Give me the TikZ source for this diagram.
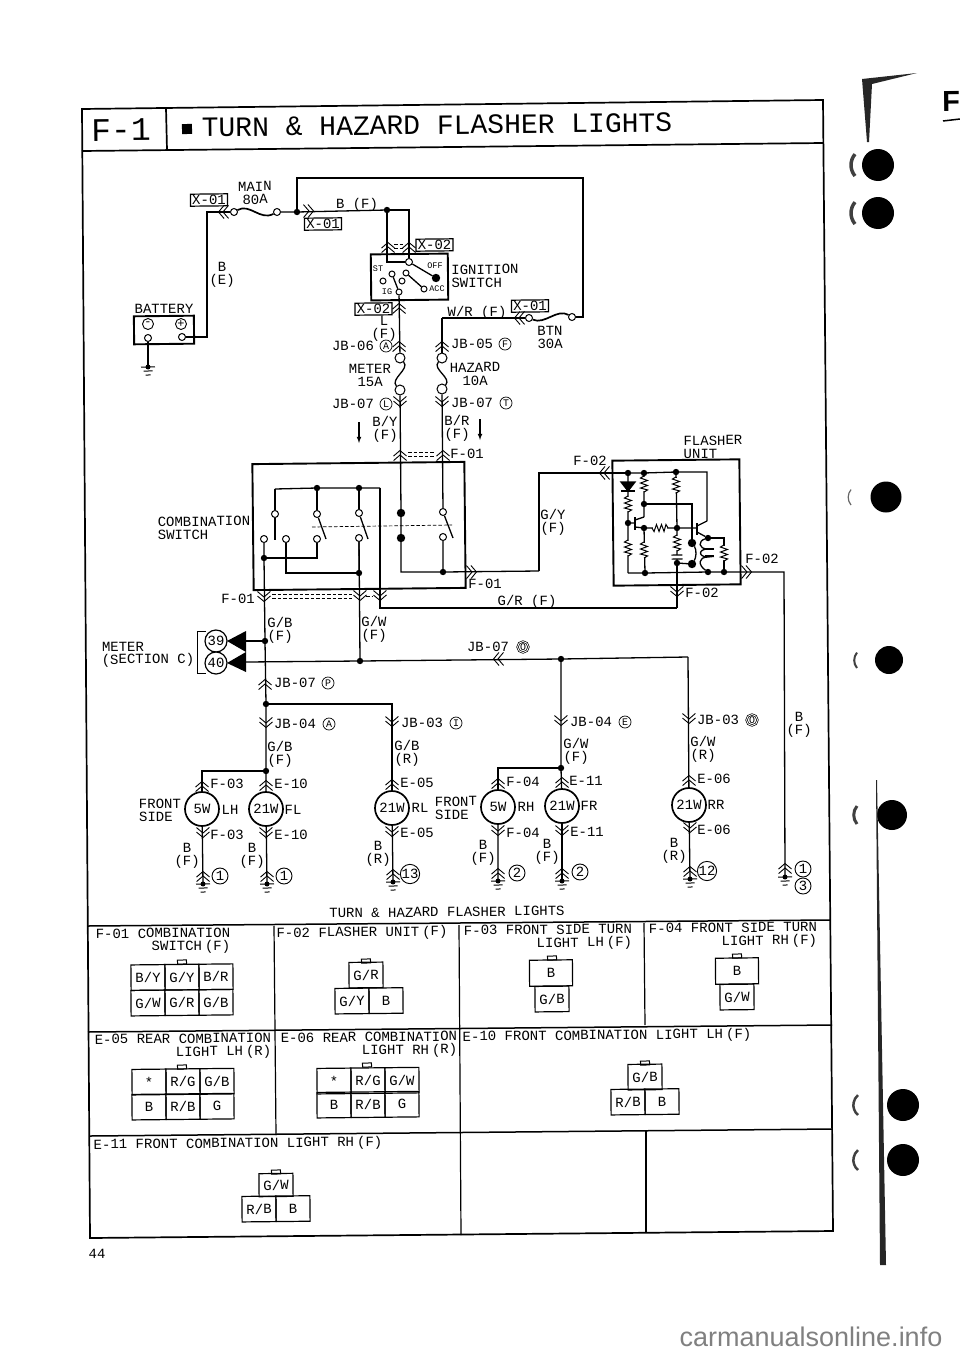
\documentclass[tikz,border=0pt]{standalone}
\usepackage{fontspec}
\setmainfont{Liberation Mono}
\newfontfamily\wmfont{Liberation Sans}
\usetikzlibrary{positioning,shapes}
\tikzstyle{term}=[draw, circle, fill=white, minimum size=7pt, inner sep=0pt, line width=1pt]
\tikzstyle{junc}=[draw, circle, fill=black, minimum size=5pt, inner sep=0pt]
\tikzstyle{bigjunc}=[draw, circle, fill=black, minimum size=7pt, inner sep=0pt]
\tikzstyle{hbox}=[draw, line width=1.9pt, inner sep=0pt]
\tikzstyle{lamp}=[draw, circle, fill=white, minimum size=34pt, inner sep=0pt, line width=1.7pt]
\tikzstyle{tagbox}=[draw, line width=1.2pt, inner sep=0pt, minimum height=12pt, minimum width=37pt]
\tikzstyle{numc}=[draw, circle, fill=white, minimum size=16pt, inner sep=0pt, line width=0.9pt]
\tikzstyle{meterc}=[draw, circle, fill=white, minimum size=22pt, inner sep=0pt, line width=1.2pt]
\tikzstyle{letc}=[draw, circle, minimum size=12pt, inner sep=0pt, line width=0.7pt, font=\fontsize{10}{10}\selectfont]
\tikzstyle{batc}=[draw, circle, minimum size=11pt, inner sep=0pt, line width=0.9pt, font=\fontsize{12}{12}\selectfont]
\tikzstyle{cell}=[draw, minimum width=34pt, minimum height=25.5pt, inner sep=0pt, line width=1.2pt]
\tikzstyle{wcell}=[draw, minimum width=43pt, minimum height=26pt, inner sep=0pt, line width=1.2pt]
\tikzstyle{ctab}=[draw, minimum width=9pt, minimum height=4pt, inner sep=0pt, line width=1pt]
\tikzstyle{small}=[font=\fontsize{8.5}{8.5}\selectfont]
\tikzstyle{dashw}=[line width=0.7pt, dash pattern=on 3.5pt off 2pt]
\newcommand{\nsp}{\kern3pt}
\tikzset{
  chev/.pic={
    \draw[line width=0.9pt] (-6.5,2) -- (0,-3.5) -- (6.5,2);
    \draw[line width=0.9pt] (-6.5,6.5) -- (0,1) -- (6.5,6.5);
  },
  gnd/.pic={
    \fill (0,0) circle (2.5);
    \draw[line width=1pt] (-7,0) -- (7,0);
    \draw[line width=1pt] (-4.5,4) -- (4.5,4);
    \draw[line width=1pt] (-2.5,8) -- (2.5,8);
  },
  rest/.pic={
    \fill[white] (-1.5,-7) rectangle (1.5,7);
    \draw[line width=1pt] (0,-8) -- (-3.5,-6) -- (3.5,-3.5) -- (-3.5,-1) -- (3.5,1.5) -- (-3.5,4) -- (3.5,6) -- (0,8);
  },
  capa/.pic={
    \fill[white] (-2,-2) rectangle (2,2);
    \draw[line width=1.1pt] (-5.5,-2) -- (5.5,-2);
    \draw[line width=1.1pt] (-5.5,2) -- (5.5,2);
  }
}

\begin{document}
\begin{tikzpicture}[x=1pt,y=-1pt,line width=1.3pt,font=\fontsize{14}{13}\selectfont,every node/.style={rotate=0.6}]
\useasboundingbox (0,0) rectangle (960,1354);

% outer frame and table
\draw[line width=1.7pt] (82,109) -- (823,100) -- (833,1231) -- (90,1238) -- cycle;
\draw[line width=1.7pt] (82,151) -- (823,143);
\draw[line width=1.7pt] (166,108) -- (167,150);
\draw[line width=1.5pt] (88,926) -- (830,920);
\draw[line width=1.5pt] (88,1032) -- (832,1025);
\draw[line width=1.5pt] (90,1136) -- (832,1129);
\draw[line width=1.2pt] (274,926) -- (276,1135);
\draw[line width=1.2pt] (459,925) -- (461,1235);
\draw[line width=1.2pt] (644,923) -- (645,1025);
\draw[line width=1.2pt] (646,1130) -- (646,1233);

\node[font=\fontsize{33}{33}\selectfont] at (121,130) (pagenum) {F-1};
\node[fill=black, minimum size=10pt, inner sep=0pt] at (187,129) (bullet) {};
\node[font=\fontsize{28}{28}\selectfont] at (437,125) (title) {TURN \& HAZARD FLASHER LIGHTS};

% battery and main fuse
\node[hbox, minimum width=60pt, minimum height=28pt] at (164,330) (battery) {};
\node at (164,309) (batlbl) {BATTERY};
\node[batc] at (148,324) (batm) {-};
\node[batc] at (181,324) (batpp) {+};
\node[term] at (148,338) (batg) {};
\node[term] at (182,337) (batp) {};
\coordinate (gndbat) at (148,367);
\coordinate (corna) at (207,212);
\node[term] at (234,212) (fmaina) {};
\node[term] at (277,212) (fmainb) {};
\node[junc] at (297,212) (jmain) {};
\node[junc] at (387,210) (jign) {};
\coordinate (topr) at (583,178);
\node[term] at (572,317) (fbtnb) {};
\node[term] at (529,318) (fbtna) {};
\coordinate (cornb) at (442,318);

\draw (batg) -- (gndbat);
\pic at (gndbat) {gnd};
\draw (batp) -| (corna) -- (fmaina);
\draw[line width=1.7pt] (fmaina) .. controls (250,203) and (260,221) .. (fmainb);
\draw (fmainb) -- (jmain) -- (jign);
\draw (jmain) |- (topr) |- (fbtnb);
\draw[line width=1.7pt] (fbtnb) .. controls (557,308) and (545,325) .. (fbtna);
\draw (fbtna) -- (cornb);
\pic[rotate=90] at (222,212) {chev};
\pic[rotate=-90] at (310,211) {chev};
\pic[rotate=90] at (518,318) {chev};

\node[align=center] at (255,193) (mainlbl) {MAIN\\80A};
\node[tagbox] at (209,200) (xa) {X-01};
\node[tagbox] at (323,224) (xb) {X-01};
\node at (357,205) (bflbl) {B (F)};
\node[align=center] at (222,275) (belbl) {B\\(E)};
\node[align=center] at (550,337) (btnlbl) {BTN\\30A};
\node at (477,313) (wrlbl) {W/R (F)};
\node[tagbox] at (530,306) (xc) {X-01};

% ignition switch
\node[hbox, fill=white, minimum width=77pt, minimum height=46pt] at (409.5,277) (ignbox) {};
\node[term] at (409,262) (igtop) {};
\node[bigjunc] at (436,278) (igoff) {};
\node[term, minimum size=6pt] at (392,274) (igst) {};
\node[term, minimum size=6pt] at (406,273) (igac) {};
\node[term, minimum size=6pt] at (383,281) (igx) {};
\node[term, minimum size=6pt] at (402,281) (igy) {};
\node[term, minimum size=6pt] at (399,292) (igb) {};
\node[term, minimum size=6pt] at (424,289) (igc) {};
\draw (igtop) -- (igoff);
\draw (igst) -- (igb);
\draw (igac) -- (igc);
\draw (jign) |- (igtop);
\draw (jign) -| (igtop);
\pic at (388,246) {chev};
\pic at (409,246) {chev};
\draw[dashw] (394,244) -- (403,244);
\draw[dashw] (394,248) -- (403,248);
\node[tagbox] at (434.5,245) (xd) {X-02};
\node[small] at (378,269) (iglst) {ST};
\node[small] at (435,266) (igloff) {OFF};
\node[small] at (387,292) (iglig) {IG};
\node[small] at (437,289) (iglacc) {ACC};
\node[align=left] at (485,276) (ignlbl) {IGNITION\\SWITCH};
\node[tagbox] at (373.5,309) (xe) {X-02};

% fuses below the switch
\node[term, minimum size=10pt] at (400,358) (fmetera) {};
\node[term, minimum size=10pt] at (400,390) (fmeterb) {};
\node[term, minimum size=10pt] at (442,358) (fhaza) {};
\node[term, minimum size=10pt] at (442,389) (fhazb) {};
\draw (igb) -- (fmetera);
\draw (fmetera) .. controls (410,369) and (390,379) .. (fmeterb);
\draw (cornb) -- (fhaza);
\draw (fhaza) .. controls (432,369) and (452,378) .. (fhazb);
\pic at (399,307) {chev};
\pic at (399,345) {chev};
\pic at (442,345) {chev};
\pic[rotate=180] at (400,403) {chev};
\pic[rotate=180] at (442,403) {chev};
\pic at (400,454) {chev};
\pic at (443,454) {chev};
\draw[dashw] (408,452) -- (435,452);
\draw[dashw] (408,456) -- (435,456);

\node[align=center] at (384,329) (llbl) {L\\(F)};
\node at (353,346) (jbsix) {JB-06};
\node[letc] at (386,346) (cira) {A};
\node at (472,344) (jbfive) {JB-05};
\node[letc] at (505,344) (cirf) {F};
\node[align=center] at (370,375.5) (meterlbl) {METER\\15A};
\node[align=center] at (475,374) (hazlbl) {HAZARD\\10A};
\node at (353,404) (jbsevl) {JB-07};
\node[letc] at (386,404) (cirl) {L};
\node at (472,403) (jbsevt) {JB-07};
\node[letc] at (506,403) (cirt) {T};
\node[align=center] at (385,429) (bylbl) {B/Y\\(F)};
\node[align=center] at (457,428) (brlbl) {B/R\\(F)};
\node at (467,454) (fonea) {F-01};
\coordinate (arra) at (359,422);
\coordinate (arrb) at (359,443);
\coordinate (arrc) at (480,419);
\coordinate (arrd) at (480,440);
\draw[-latex, line width=1.1pt] (arra) -- (arrb);
\draw[-latex, line width=1.1pt] (arrc) -- (arrd);

% combination switch
\node[hbox, minimum width=212pt, minimum height=126pt] at (359,526) (combo) {};
\node[align=left] at (204,528) (combolbl) {COMBINATION\\SWITCH};
\coordinate (cta) at (275,489);
\node[junc] at (317,488) (ctb) {};
\node[junc] at (359,488) (ctc) {};
\coordinate (ctd) at (380,488);
\node[term] at (275,514) (swa) {};
\node[term] at (317,514) (swb) {};
\node[term] at (359,513) (swc) {};
\node[bigjunc] at (401,513) (swd) {};
\node[term] at (443,512) (swe) {};
\node[term] at (264,539) (lowa) {};
\node[term] at (286,539) (lowb) {};
\node[term] at (317,539) (lowc) {};
\node[term] at (359,538) (lowd) {};
\node[bigjunc] at (401,538) (lowe) {};
\node[term] at (443,537) (lowf) {};
\node[junc] at (264,558) (jla) {};
\node[junc] at (359,573) (jlb) {};
\node[junc] at (443,572) (jlc) {};
\coordinate (jle) at (401,572);
\coordinate (bladea) at (275,540);
\coordinate (bladeb) at (326,539);
\coordinate (bladec) at (368,539);
\coordinate (blades) at (453,538);
\coordinate (gycorn) at (539,571);
\coordinate (grcorn) at (677,608);

\draw (cta) -- (ctb) -- (ctc) -- (ctd);
\draw (swa) -- (cta);
\draw (swb) -- (ctb);
\draw (swc) -- (ctc);
\draw (swa) -- (bladea);
\draw (swb) -- (bladeb);
\draw (swc) -- (bladec);
\draw (swd) -- (lowe);
\draw (swe) -- (blades);
\draw[dashw] (312,527) -- (452,525);
\draw (fmeterb) -- (swd);
\draw (fhazb) -- (swe);
\draw (lowa) -- (jla);
\draw (jla) -| (lowc);
\draw (lowb) |- (jlb);
\draw (lowd) -- (jlb);
\draw (lowe) -- (jle) -- (jlc) -- (gycorn);
\draw (lowf) -- (jlc);
\draw (ctd) |- (grcorn);
\pic[rotate=-90] at (473,572) {chev};
\pic[rotate=180] at (264,598) {chev};
\pic[rotate=180] at (360,597) {chev};
\pic[rotate=180] at (380,597) {chev};
\draw[dashw] (272,594) -- (352,594);
\draw[dashw] (272,598) -- (352,598);
\draw[dashw] (366,596) -- (373,596);
\node at (485,584) (fonec) {F-01};
\node at (238,599) (foneb) {F-01};
\node[align=center] at (553,522.5) (gylbl) {G/Y\\(F)};
\node at (527,602) (grlbl) {G/R (F)};
\node[align=center] at (280,630.5) (gblbl) {G/B\\(F)};
\node[align=center] at (374,629.5) (gwlbl) {G/W\\(F)};

% flasher unit
\node[hbox, minimum width=127pt, minimum height=125pt] at (676.5,522.5) (flasher) {};
\node[align=left] at (713,447) (flalbl) {FLASHER\\UNIT};
\node at (590,461) (ftwoa) {F-02};
\node at (762,559) (ftwob) {F-02};
\node at (702,593) (ftwoc) {F-02};
\node[junc] at (628,473) (fja) {};
\node[junc] at (644,473) (fjb) {};
\node[junc] at (676,472) (fjc) {};
\coordinate (fjd) at (707,472);
\coordinate (fje) at (707,521);
\node[junc] at (628,523) (base) {};
\node[junc] at (644,504) (jmid) {};
\node[junc] at (644,528) (jemi) {};
\node[junc] at (677,528) (jrel) {};
\node[junc] at (677,563) (jcap) {};
\node[junc] at (645,573) (jbotb) {};
\node[junc] at (708,572) (jbotc) {};
\node[junc] at (724,572) (jbotd) {};
\node[junc] at (708,538) (jcoil) {};
\node[bigjunc] at (692,543) (rlya) {};
\node[bigjunc] at (692,564) (rlyb) {};
\coordinate (jbota) at (628,573);
\coordinate (colb) at (644,517);
\coordinate (tbase) at (697,528);
\coordinate (bcorn) at (784,572);
\coordinate (gndg) at (785,877);

\draw (gycorn) |- (fja);
\draw (fja) -- (fjb) -- (fjc) -- (fjd) -- (fje);
\draw (fja) -- (base) -- (jbota);
\draw (fjb) -- (jmid) -- (colb);
\draw (fjc) -- (jrel) -- (jcap);
\draw (jemi) -- (jbotb);
\draw (jemi) -- (jrel) -- (tbase);
\draw (jmid) -| (rlya);
\draw (rlya) .. controls (697,550) and (696,558) .. (rlyb);
\draw (jcap) -- (rlyb);
\draw (jbota) -- (jbotb) -- (jbotc) -- (jbotd) -- (bcorn) -- (gndg);
\draw (jcoil) -| (jbotd);
\draw (jcoil) .. controls (698,541) and (698,549) .. (708,549) .. controls (698,549) and (698,557) .. (708,557) .. controls (698,557) and (698,565) .. (jbotc);
\draw (grcorn) -- (jcap);
% diode and transistors
\draw[fill=black] (621,482) -- (635,482) -- (628,491) -- cycle;
\draw (621,491) -- (635,491);
\draw (base) -- (635,523);
\draw[line width=1.6pt] (635,517) -- (635,530);
\draw (635,520) -- (colb);
\draw (635,527) -- (jemi);
\draw[line width=1.6pt] (697,523) -- (697,535);
\draw (697,526) -- (fje);
\draw (697,532) -- (jcoil);
\draw[line width=1.6pt] (705,549) -- (714,549);
\draw[line width=1.6pt] (705,556) -- (714,556);
\pic at (628,504) {rest};
\pic at (628,548) {rest};
\pic at (644,484) {rest};
\pic at (644,550) {rest};
\pic at (676,485) {rest};
\pic at (677,543) {rest};
\pic at (724,553) {rest};
\pic[rotate=90] at (660,528) {rest};
\pic at (677,557) {capa};
\pic[rotate=90] at (603,473) {chev};
\pic[rotate=-90] at (748,572) {chev};
\pic[rotate=180] at (677,593) {chev};

% meter
\node[meterc] at (216,641) (mthirty) {39};
\node[meterc] at (216,663) (mforty) {40};
\fill (227,641) -- (246,631) -- (246,652) -- cycle;
\fill (227,663) -- (246,652) -- (246,672) -- cycle;
\coordinate (tria) at (246,641);
\coordinate (trib) at (246,662);
\coordinate (braa) at (206,631);
\coordinate (brab) at (197,631);
\coordinate (brac) at (206,673);
\draw[line width=0.9pt] (braa) -- (brab) |- (brac);
\node at (123,647) (mlbl) {METER};
\node at (148,660) (mlbb) {(SECTION C)};
\node[junc] at (265,641) (jgb) {};
\node[junc] at (360,661) (jgw) {};
\node[junc] at (561,659) (jo) {};
\coordinate (corno) at (688,657);
\node[junc] at (266,704) (jp) {};
\node at (295,683) (jbp) {JB-07};
\node[letc] at (328,683) (cirp) {P};
\node at (488,647) (jbo) {JB-07};
\node[letc, double, double distance=0.8pt, minimum size=11pt] at (523,647) (ciro) {O};
\pic at (265,683) {chev};
\pic[rotate=90] at (497,659) {chev};
\draw (tria) -- (jgb);
\draw (trib) -- (jgw) -- (jo) -- (corno);
\draw (jla) -- (jgb) -- (jp);
\draw (lowd) -- (jgw);

% lamps
\node[lamp] at (202,809) (lamplh) {5W};
\node[lamp] at (266,809) (lampfl) {21W};
\node[lamp] at (392,808) (lamprl) {21W};
\node[lamp] at (498,807) (lamprh) {5W};
\node[lamp] at (562,806) (lampfr) {21W};
\node[lamp] at (689,805) (lamprr) {21W};
\node[junc] at (266,771) (jfl) {};
\node[junc] at (561,768) (jfr) {};
\coordinate (gnda) at (203,884);
\coordinate (gndb) at (267,884);
\coordinate (gndc) at (393,882);
\coordinate (gndd) at (498,881);
\coordinate (gnde) at (562,881);
\coordinate (gndf) at (690,879);
\draw (jp) -- (jfl) -- (lampfl);
\draw (jfl) -| (lamplh);
\draw (jp) -| (lamprl);
\draw (jo) -- (jfr) -- (lampfr);
\draw (jfr) -| (lamprh);
\draw (corno) -- (lamprr);
\draw (lamplh) -- (gnda);
\draw (lampfl) -- (gndb);
\draw (lamprl) -- (gndc);
\draw (lamprh) -- (gndd);
\draw (lampfr) -- (gnde);
\draw (lamprr) -- (gndf);
\pic[rotate=180] at (266,724) {chev};
\pic[rotate=180] at (392,723) {chev};
\pic[rotate=180] at (561,722) {chev};
\pic[rotate=180] at (689,720) {chev};
\pic at (202,785) {chev};
\pic at (266,784) {chev};
\pic at (392,783) {chev};
\pic at (498,782) {chev};
\pic at (562,781) {chev};
\pic at (689,779) {chev};
\pic[rotate=180] at (203,834) {chev};
\pic[rotate=180] at (266,834) {chev};
\pic[rotate=180] at (392,833) {chev};
\pic[rotate=180] at (498,832) {chev};
\pic[rotate=180] at (562,832) {chev};
\pic[rotate=180] at (690,829) {chev};
\pic at (203,875) {chev};
\pic at (267,875) {chev};
\pic at (393,873) {chev};
\pic at (498,872) {chev};
\pic at (562,872) {chev};
\pic at (690,870) {chev};
\pic at (785,867) {chev};
\pic at (gnda) {gnd};
\pic at (gndb) {gnd};
\pic at (gndc) {gnd};
\pic at (gndd) {gnd};
\pic at (gnde) {gnd};
\pic at (gndf) {gnd};
\pic at (gndg) {gnd};
\node[numc] at (220,876) (gna) {1};
\node[numc] at (284,876) (gnb) {1};
\node[numc] at (410,874) (gnc) {13};
\node[numc] at (517,873) (gnd1) {2};
\node[numc] at (580,872) (gne) {2};
\node[numc] at (707,871) (gnf) {12};
\node[numc] at (803,869) (gng) {1};
\node[numc] at (803,886) (gnh) {3};

\node at (295,724) (jbfoura) {JB-04};
\node[letc] at (329,724) (cirja) {A};
\node at (422,723) (jbthreei) {JB-03};
\node[letc] at (456,723) (cirji) {I};
\node at (591,722) (jbfoure) {JB-04};
\node[letc] at (625,722) (cirje) {E};
\node at (718,720) (jbthreeo) {JB-03};
\node[letc, double, double distance=0.8pt, minimum size=11pt] at (752,720) (cirjo) {O};
\node[align=center] at (799,724.5) (bright) {B\\(F)};
\node[align=center] at (280,754.5) (gbb) {G/B\\(F)};
\node[align=center] at (407,753) (gbr) {G/B\\(R)};
\node[align=center] at (576,751) (gwb) {G/W\\(F)};
\node[align=center] at (703,749.5) (gwr) {G/W\\(R)};
\node at (227,784) (fthreea) {F-03};
\node at (291,784) (etena) {E-10};
\node at (417,783) (efivea) {E-05};
\node at (523,782) (ffoura) {F-04};
\node at (586,781) (eelevena) {E-11};
\node at (714,779) (esixa) {E-06};
\node[align=left] at (160,810.5) (fronta) {FRONT\\SIDE};
\node[align=left] at (456,808) (frontb) {FRONT\\SIDE};
\node at (230,810) (lhlbl) {LH};
\node at (293,810) (fllbl) {FL};
\node at (420,808) (rllbl) {RL};
\node at (526,807) (rhlbl) {RH};
\node at (589,806) (frlbl) {FR};
\node at (716,805) (rrlbl) {RR};
\node at (227,835) (fthreeb) {F-03};
\node at (291,835) (etenb) {E-10};
\node at (417,833) (efiveb) {E-05};
\node at (523,833) (ffourb) {F-04};
\node at (587,832) (eelevenb) {E-11};
\node at (714,830) (esixb) {E-06};
\node[align=center] at (187,856) (bla) {B\\(F)};
\node[align=center] at (252,855.5) (blb) {B\\(F)};
\node[align=center] at (378,854) (blc) {B\\(R)};
\node[align=center] at (483,853) (bld) {B\\(F)};
\node[align=center] at (547,852) (ble) {B\\(F)};
\node[align=center] at (674,850.5) (blf) {B\\(R)};
\node at (447,912) (diagtitle) {TURN \& HAZARD FLASHER LIGHTS};

% connector table
\node[align=right] at (163,941) (capa) {F-01 COMBINATION\\SWITCH\nsp(F)};
\node at (362,933) (capc) {F-02 FLASHER UNIT\nsp(F)};
\node[align=right] at (548,937.5) (capd) {F-03 FRONT SIDE TURN\\LIGHT LH\nsp(F)};
\node[align=right] at (733,935.5) (capf) {F-04 FRONT SIDE TURN\\LIGHT RH\nsp(F)};
\node[align=right] at (183,1046.5) (caph) {E-05 REAR COMBINATION\\LIGHT LH\nsp(R)};
\node[align=right] at (369,1045) (capj) {E-06 REAR COMBINATION\\LIGHT RH\nsp(R)};
\node at (607,1036) (capl) {E-10 FRONT COMBINATION LIGHT LH\nsp(F)};
\node at (238,1144) (capm) {E-11 FRONT COMBINATION LIGHT RH\nsp(F)};

\node[ctab] at (182,962) (fonetab) {};
\node[cell] at (148,977.5) (fonea1) {B/Y};
\node[cell, right of = fonea1, node distance = 34pt] (foneb1) {G/Y};
\node[cell, right of = foneb1, node distance = 34pt] (fonec1) {B/R};
\node[cell] at (148,1003) (fonea2) {G/W};
\node[cell, right of = fonea2, node distance = 34pt] (foneb2) {G/R};
\node[cell, right of = foneb2, node distance = 34pt] (fonec2) {G/B};

\node[ctab] at (366,961) (ftwotab) {};
\node[cell] at (366,975) (ftwoa1) {G/R};
\node[cell] at (352,1001) (ftwoa2) {G/Y};
\node[cell, right of = ftwoa2, node distance = 34pt] (ftwob2) {B};

\node[ctab] at (552,958) (fthreetab) {};
\node[wcell] at (551,973) (fthreea1) {B};
\node[cell] at (552,999) (fthreea2) {G/B};

\node[ctab] at (737,956) (ffourtab) {};
\node[wcell] at (737,971) (ffoura1) {B};
\node[cell] at (737,997) (ffoura2) {G/W};

\node[ctab] at (182,1067) (efivetab) {};
\node[cell] at (149,1082) (efivea1) {*};
\node[cell, right of = efivea1, node distance = 34pt] (efiveb1) {R/G};
\node[cell, right of = efiveb1, node distance = 34pt] (efivec1) {G/B};
\node[cell] at (149,1107) (efivea2) {B};
\node[cell, right of = efivea2, node distance = 34pt] (efiveb2) {R/B};
\node[cell, right of = efiveb2, node distance = 34pt] (efivec2) {G};

\node[ctab] at (367,1065) (esixtab) {};
\node[cell] at (334,1081) (esixa1) {*};
\node[cell, right of = esixa1, node distance = 34pt] (esixb1) {R/G};
\node[cell, right of = esixb1, node distance = 34pt] (esixc1) {G/W};
\node[cell] at (334,1105) (esixa2) {B};
\node[cell, right of = esixa2, node distance = 34pt] (esixb2) {R/B};
\node[cell, right of = esixb2, node distance = 34pt] (esixc2) {G};

\node[ctab] at (645,1063) (etentab) {};
\node[cell] at (645,1077) (etena1) {G/B};
\node[cell] at (628,1102) (etena2) {R/B};
\node[cell, right of = etena2, node distance = 34pt] (etenb2) {B};

\node[ctab] at (276,1172) (eeleventab) {};
\node[cell, minimum height=23pt] at (276,1185) (eelevena1) {G/W};
\node[cell] at (259,1209) (eelevena2) {R/B};
\node[cell, right of = eelevena2, node distance = 34pt] (eelevenb2) {B};

\node at (97,1254) (pageno) {44};

% page margin
\node[font=\wmfont\fontsize{29}{29}\bfseries\selectfont, inner sep=0pt] at (951,101) (sideF) {F};
\draw[line width=1.5pt] (943,121) -- (960,119);
\fill (878,165) circle (16);
\fill (878,213) circle (16);
\fill (886,497) circle (15.5);
\fill (889,660) circle (14);
\fill (892,815) circle (15);
\fill (903,1105) circle (16);
\fill (903,1160) circle (16);
\draw[line width=3.5pt, black!75] (855,176) arc (140:220:17);
\draw[line width=3.5pt, black!75] (855,224) arc (140:220:17);
\draw[line width=1.2pt, black!60] (851,505) arc (140:220:12);
\draw[line width=2pt, black!75] (857,668) arc (140:220:12);
\draw[line width=3pt, black!75] (857,824) arc (140:220:14);
\draw[line width=2.5pt, black!75] (858,1115) arc (130:230:13);
\draw[line width=2.5pt, black!75] (858,1170) arc (130:230:13);
\fill[black!85] (862,79) -- (917,73) -- (872,84) -- (869,142) -- (867,142) -- cycle;
\fill[black!85] (876,780) -- (877,780) -- (886,1265) -- (880,1265) -- cycle;
\node[font=\wmfont\fontsize{27}{27}\selectfont, text=black!50, rotate=-0.6] at (811,1337) (wmark) {carmanualsonline.info};
\end{tikzpicture}
\end{document}
